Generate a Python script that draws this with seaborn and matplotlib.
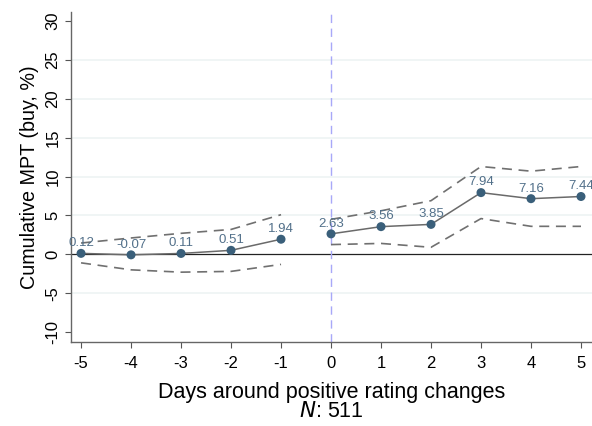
import numpy as np
import pandas as pd
import seaborn as sns
import matplotlib.pyplot as plt

days = [-5, -4, -3, -2, -1, 0, 1, 2, 3, 4, 5]
mpt = [0.12, -0.07, 0.11, 0.51, 1.94, 2.63, 3.56, 3.85, 7.94, 7.16, 7.44]
ci_up = [1.45, 2.1, 2.7, 3.2, 5.1, 4.5, 5.6, 6.9, 11.3, 10.7, 11.3]
ci_lo = [-1.1, -2.0, -2.3, -2.2, -1.3, 1.25, 1.4, 0.9, 4.6, 3.6, 3.6]

df = pd.DataFrame({"day": days, "mpt": mpt, "up": ci_up, "lo": ci_lo})
df["seg"] = np.where(df["day"] < 0, "pre", "post")

sns.set_style("white")
plt.rcParams['font.family'] = ['Liberation Sans', 'DejaVu Sans']
plt.rcParams['text.color'] = 'black'
plt.rcParams['axes.labelcolor'] = 'black'
plt.rcParams['xtick.color'] = 'black'
plt.rcParams['ytick.color'] = 'black'

fig = plt.figure(figsize=(5.92, 4.26), dpi=100)
ax = fig.add_axes([0.12, 0.197, 0.88, 0.775])

# light grid
for g in [-5, 5, 10, 15, 20, 25]:
    ax.axhline(g, color="#edf3f4", lw=1.2, zorder=0)
ax.axhline(0, color="#222222", lw=0.9, zorder=1)
ax.axvline(0, color="#a8a8f8", lw=1, ls=(0, (6, 4)), zorder=1)

for seg in ["pre", "post"]:
    d = df[df["seg"] == seg]
    sns.lineplot(data=d, x="day", y="up", ax=ax, color="#707070", lw=1.2,
                 ls=(0, (6, 4)), estimator=None)
    sns.lineplot(data=d, x="day", y="lo", ax=ax, color="#707070", lw=1.2,
                 ls=(0, (6, 4)), estimator=None)
    sns.lineplot(data=d, x="day", y="mpt", ax=ax, color="#6a6a6a", lw=1.1,
                 estimator=None)
sns.scatterplot(data=df, x="day", y="mpt", ax=ax, color="#3a5f7a", s=42,
                edgecolor="none", zorder=5)

for x, y in zip(days, mpt):
    ax.annotate(f"{y:.2f}", (x, y), xytext=(0, 3), textcoords="offset points",
                ha="center", va="bottom", fontsize=9.5, color="#52708a", zorder=6)

ax.set_xlim(-5.2, 5.22)
ax.set_ylim(-11.3, 31.2)
ax.set_xticks(days)
ax.set_xticklabels([str(d) for d in days])
ax.set_yticks([-10, -5, 0, 5, 10, 15, 20, 25, 30])
ax.set_yticklabels(["-10", "-5", "0", "5", "10", "15", "20", "25", "30"],
                   rotation=90, va="center")
ax.tick_params(axis="both", labelsize=12, length=4, color="#555555",
               labelcolor="black", direction="out", width=0.8,
               left=True, bottom=True)
ax.tick_params(axis="x", pad=6)

sns.despine(ax=ax)
for sp in ["left", "bottom"]:
    ax.spines[sp].set_color("#666666")
    ax.spines[sp].set_linewidth(1)

ax.set_ylabel("Cumulative MPT (buy, %)", fontsize=14.2, labelpad=5)
ax.set_xlabel("Days around positive rating changes\n$N$: 511", fontsize=15.5,
              labelpad=8, linespacing=0.9)

fig.savefig("out.png", dpi=100)
